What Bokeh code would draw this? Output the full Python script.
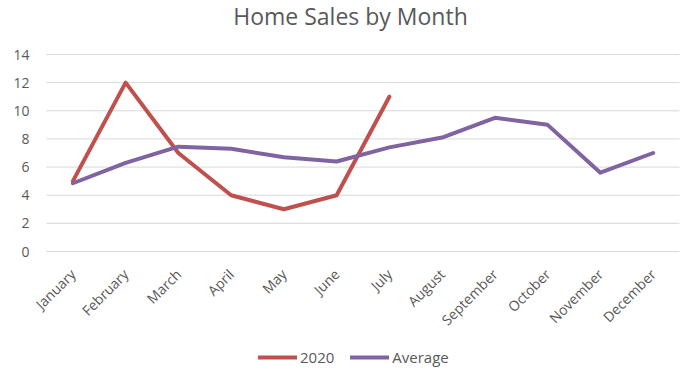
from bokeh.plotting import figure
from bokeh.models import FactorRange, Range1d, Label, Legend, LegendItem, FixedTicker
from bokeh.embed import file_html
from bokeh.resources import INLINE
from math import pi

months = ["January", "February", "March", "April", "May", "June", "July",
          "August", "September", "October", "November", "December"]
sales_2020 = [5, 12, 7, 4, 3, 4, 11]
average = [4.85, 6.3, 7.45, 7.3, 6.7, 6.4, 7.4, 8.1, 9.5, 9.0, 5.6, 7.0]
y_ticks = [0, 2, 4, 6, 8, 10, 12, 14]
title_text = "Home Sales by Month"

FONT = "Open Sans"
GRAY = "#595959"
GRID = "#D9D9D9"
RED = "#C0504D"
PURPLE = "#8064A2"

# layout (pixels)
W, H = 700, 370
TOP_PX, ZERO_PX = 54, 251          # pixel rows of y=14 and y=0
FRAME_L, FRAME_R = 30, 695         # frame edges (wider than plot area so labels are not clipped)
CAT_W = 52.75                      # width of one category
ppu = (ZERO_PX - TOP_PX) / 14.0
y_max = 14 + TOP_PX / ppu
y_min = -(H - ZERO_PX) / ppu
pad = ((FRAME_R - FRAME_L) / CAT_W - len(months)) / 2   # padding applied on each side

p = figure(width=W, height=H, output_backend="svg", toolbar_location=None,
           x_range=FactorRange(*months, range_padding=pad, range_padding_units="absolute"),
           y_range=Range1d(y_min, y_max),
           min_border_left=FRAME_L, min_border_right=W - FRAME_R,
           min_border_top=0, min_border_bottom=0)

p.outline_line_color = None
p.background_fill_color = "white"
p.border_fill_color = "white"
p.xgrid.grid_line_color = None
p.ygrid.grid_line_color = None

# horizontal gridlines spanning only the category area
p.segment(x0=[(months[0], -0.5)] * len(y_ticks), x1=[(months[-1], 0.5)] * len(y_ticks),
          y0=y_ticks, y1=y_ticks, line_color=GRID, line_width=1, level="underlay")

r1 = p.line(months[:len(sales_2020)], sales_2020, line_color=RED, line_width=4,
            line_join="round", line_cap="round")
r2 = p.line(months, average, line_color=PURPLE, line_width=4,
            line_join="round", line_cap="round")

p.yaxis.ticker = FixedTicker(ticks=y_ticks)
for ax in (p.xaxis[0], p.yaxis[0]):
    ax.axis_line_color = None
    ax.major_tick_line_color = None
    ax.minor_tick_line_color = None
    ax.major_tick_out = 0
    ax.major_tick_in = 0
    ax.minor_tick_out = 0
    ax.major_label_text_color = GRAY
    ax.major_label_text_font = FONT
    ax.major_label_text_font_size = "14px"

p.yaxis.major_label_standoff = 1
p.xaxis.fixed_location = 0
p.xaxis.major_label_orientation = pi / 4
p.xaxis.major_label_standoff = 20

title = Label(x=5.763, y=16.73, text=title_text, text_align="center",
              text_baseline="alphabetic", text_font=FONT, text_font_size="23px",
              text_color=GRAY)
p.add_layout(title)

legend = Legend(items=[LegendItem(label="2020", renderers=[r1]),
                       LegendItem(label="Average", renderers=[r2])],
                orientation="horizontal", location=(258 - FRAME_L, 3),
                glyph_width=39, glyph_height=20, label_standoff=3, spacing=16,
                padding=0, margin=0, border_line_color=None,
                background_fill_alpha=0,
                label_text_font=FONT, label_text_font_size="15px",
                label_text_color=GRAY)
p.add_layout(legend, "center")

open("out.html", "w").write(file_html(p, INLINE))
